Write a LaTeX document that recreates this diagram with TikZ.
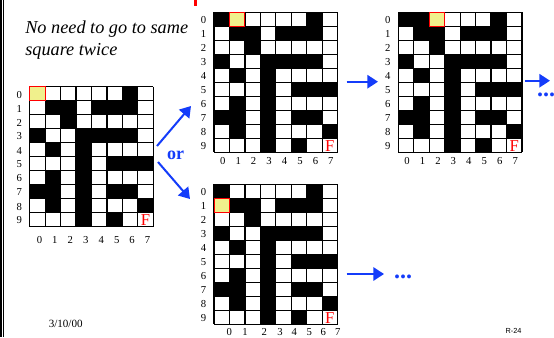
\documentclass[tikz,border=0pt]{standalone}
\usepackage{fontspec}
\setmainfont{Liberation Serif}
\newfontfamily\sansf{Liberation Sans}
\usetikzlibrary{arrows.meta}
\definecolor{arrowblue}{RGB}{20,60,250}
\definecolor{startyellow}{RGB}{240,240,140}
\def\cw{15.45}
\def\ch{14}
\tikzset{
  gridline/.style={draw=black,line width=0.9pt},
  lab/.style={font=\fontsize{8}{9}\selectfont,inner sep=0pt},
  fnode/.style={font=\fontsize{12.5}{13}\selectfont,text=red,inner sep=0pt},
  bluearrow/.style={draw=arrowblue,line width=1.5pt,-{Triangle[length=8pt,width=10pt]}},
  dotsnode/.style={font=\fontsize{18}{18}\selectfont\bfseries,text=arrowblue,inner sep=0pt},
  titletext/.style={anchor=base west,inner sep=0pt,font=\fontsize{13.7}{16}\selectfont\itshape},
}
\newcommand\mazeat[6]{% #1 name, #2 x, #3 y, #4 extra black cells, #5 yellow col, #6 yellow row
 \begin{scope}[shift={(#2,#3)}]
  \fill[white] (0,0) rectangle (8*\cw,10*\ch);
  \foreach \cc/\rr in {6/0,1/1,2/1,4/1,5/1,6/1,2/2,0/3,3/3,4/3,5/3,6/3,1/4,3/4,3/5,5/5,6/5,7/5,1/6,3/6,0/7,1/7,3/7,5/7,6/7,1/8,3/8,7/8,3/9,5/9,#4}
    \fill[black] (\cc*\cw,\rr*\ch) rectangle ++(\cw,\ch);
  \foreach \i in {0,...,8} \draw[gridline] (\i*\cw,0) -- (\i*\cw,10*\ch);
  \foreach \j in {0,...,10} \draw[gridline] (0,\j*\ch) -- (8*\cw,\j*\ch);
  \filldraw[fill=startyellow,draw=red,line width=0.7pt] (#5*\cw,#6*\ch) rectangle ++(\cw,\ch);
  \node[fnode] (#1F) at (7.5*\cw,9.5*\ch+0.5) {F};
  \foreach \j in {0,...,9} \node[lab] (#1r\j) at (-10.5,\j*\ch+7.8) {\j};
 \end{scope}}
\begin{document}
\begin{tikzpicture}[x=0.75pt,y=-0.75pt]
\useasboundingbox (0,0) rectangle (554,337);
\fill[white] (0,0) rectangle (554,337);
% frame at left
\draw[line width=1.3pt] (1,0) -- (1,337);
\draw[line width=0.6pt] (3.8,0) -- (3.8,337);
% red mark at top
\fill[red] (193.5,0) rectangle (196.5,5.5);
% title text
\node[titletext] (t1) at (25,33.3) {No need to go to same};
\node[titletext] (t2) at (25,55) {square twice};
% grids
\mazeat{ga}{29.7}{86.7}{6/0}{0}{0}
\mazeat{gb}{214}{12.3}{0/0}{1}{0}
\mazeat{gc}{398.3}{12.3}{0/0,1/0}{2}{0}
\mazeat{gd}{214}{184.3}{0/0}{0}{1}
% column labels
\foreach \i in {0,...,7} {
  \node[lab] (gac\i) at (29.7+\i*\cw+0.5*\cw+2,240) {\i};
  \node[lab] (gbc\i) at (214+\i*\cw+0.5*\cw+1,161) {\i};
  \node[lab] (gcc\i) at (398.3+\i*\cw+0.5*\cw+1,161) {\i};
}
\foreach \i/\xx in {0/229.3,1/245,2/264.3,3/280,4/294.3,5/309.3,6/323.3,7/337.7}
  \node[lab] (gdc\i) at (\xx,331.7) {\i};
% arrows
\coordinate (a1s) at (157,146);
\coordinate (a1e) at (191,106);
\coordinate (a2s) at (158,162);
\coordinate (a2e) at (190,199);
\draw[bluearrow] (a1s) -- (a1e);
\draw[bluearrow] (a2s) -- (a2e);
\node[font=\fontsize{13.5}{13.5}\selectfont\bfseries,text=arrowblue,inner sep=0pt] (or) at (175.5,155) {or};
\coordinate (a3s) at (346.7,81.7);
\coordinate (a3e) at (378,81.7);
\draw[bluearrow] (a3s) -- (a3e);
\coordinate (a4s) at (525,80.7);
\coordinate (a4e) at (550,80.7);
\draw[bluearrow] (a4s) -- (a4e);
\node[dotsnode,anchor=base] (d1) at (546,96) {...};
\coordinate (a5s) at (346.7,274);
\coordinate (a5e) at (384,274);
\draw[bluearrow] (a5s) -- (a5e);
\node[dotsnode,anchor=base] (d2) at (403,278) {...};
% footer
\node[inner sep=0pt,font=\fontsize{8.3}{9}\selectfont] (date) at (65.7,324) {3/10/00};
\node[inner sep=0pt,font=\fontsize{5.5}{6}\selectfont\sansf] (page) at (513.5,331) {R-24};
\end{tikzpicture}
\end{document}
